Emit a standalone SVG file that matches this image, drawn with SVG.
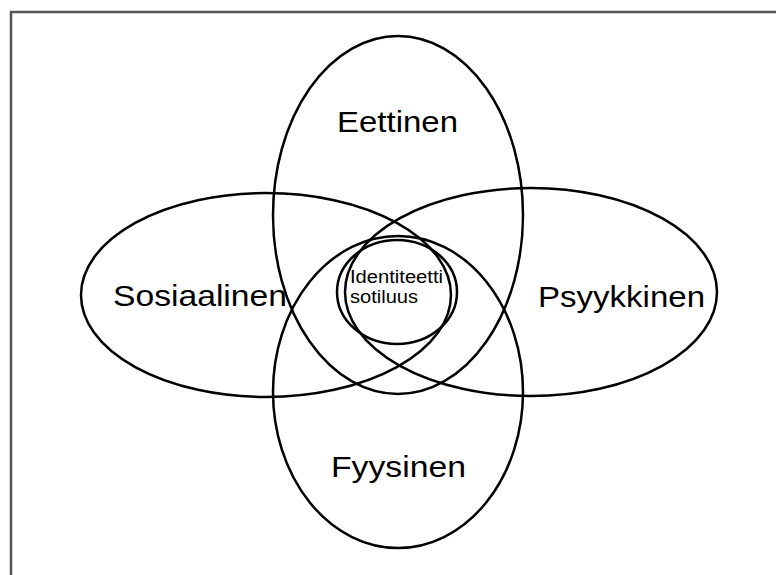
<svg xmlns="http://www.w3.org/2000/svg" width="776" height="575" viewBox="0 0 776 575">
<style>
.e{fill:none;stroke:#000;stroke-width:2.5}
.t{font-family:"Liberation Sans",Arial,sans-serif;fill:#000}
.big{font-size:30px}
.small{font-size:18px}
</style>
<rect x="0" y="0" width="776" height="575" fill="#fff"/>
<path d="M11,575 V12 H776" fill="none" stroke="#555" stroke-width="2.5"/>
<g id="eettinen"><ellipse class="e" cx="398" cy="215" rx="125" ry="179"/><text class="t big" x="337" y="132" textLength="121" lengthAdjust="spacingAndGlyphs">Eettinen</text></g>
<g id="fyysinen"><ellipse class="e" cx="398" cy="392" rx="125" ry="156"/><text class="t big" x="331" y="477" textLength="135" lengthAdjust="spacingAndGlyphs">Fyysinen</text></g>
<g id="sosiaalinen"><ellipse class="e" cx="266" cy="295" rx="185" ry="102"/><text class="t big" x="113" y="306" textLength="174" lengthAdjust="spacingAndGlyphs">Sosiaalinen</text></g>
<g id="psyykkinen"><ellipse class="e" cx="531" cy="292" rx="186" ry="104"/><text class="t big" x="538" y="307" textLength="167" lengthAdjust="spacingAndGlyphs">Psyykkinen</text></g>
<g id="identiteetti"><ellipse class="e" cx="397" cy="292" rx="60" ry="52"/><text class="t small" x="350" y="283" textLength="93" lengthAdjust="spacingAndGlyphs">Identiteetti</text><text class="t small" x="350" y="303" textLength="68" lengthAdjust="spacingAndGlyphs">sotiluus</text></g>
<g id="connectors"></g>
</svg>
